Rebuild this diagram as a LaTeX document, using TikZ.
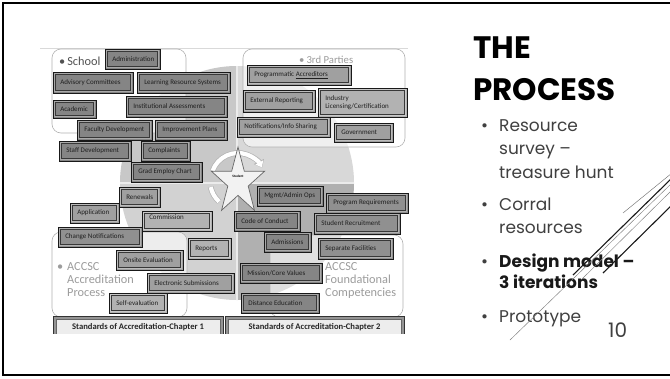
\documentclass[tikz,border=0pt]{standalone}
\usepackage{fontspec}
\setmainfont{Poppins}
\newfontfamily\carl{Carlito}
\usetikzlibrary{arrows.meta}
\definecolor{cA}{HTML}{858585}
\definecolor{cA2}{HTML}{909090}
\definecolor{cB}{HTML}{A0A0A0}
\definecolor{cC}{HTML}{B2B2B2}
\definecolor{qTL}{HTML}{C8C8C8}
\definecolor{qTR}{HTML}{D8D8D8}
\definecolor{qBL}{HTML}{D2D2D2}
\definecolor{qBR}{HTML}{B0B0B0}
\definecolor{bodytxt}{HTML}{404040}
\definecolor{qtitle}{HTML}{9C9C9C}
\tikzset{
 bxs/.style={draw=black!90, line width=0.9pt, inner sep=0pt,
   path picture={
     \draw[white, opacity=0.3, line width=1.5pt] ([shift={(1.4pt,-1.4pt)}]path picture bounding box.north west) rectangle ([shift={(-1.4pt,1.4pt)}]path picture bounding box.south east);
     \draw[black!78, line width=0.55pt] ([shift={(2.6pt,-2.6pt)}]path picture bounding box.north west) rectangle ([shift={(-2.6pt,2.6pt)}]path picture bounding box.south east);
   }},
 bxt/.style={inner sep=0pt, font=\carl\fontsize{7}{8}\selectfont, text=black!88, align=left},
 qbox/.style={draw=black!30, line width=0.6pt, rounded corners=9pt, fill=white, fill opacity=0.6},
 qtxt/.style={inner sep=0pt, anchor=base west, font=\carl\fontsize{12.3}{13}\selectfont, text=qtitle},
 stds/.style={draw=black!80, line width=0.8pt, fill=black!42, inner sep=0pt,
   path picture={
     \fill[white!93!black] ([shift={(3pt,-3.5pt)}]path picture bounding box.north west) rectangle ([shift={(-3pt,3pt)}]path picture bounding box.south east);
     \draw[black!60, line width=0.45pt] ([shift={(3pt,-3.5pt)}]path picture bounding box.north west) rectangle ([shift={(-3pt,3pt)}]path picture bounding box.south east);
   }},
 stdt/.style={inner sep=0pt, anchor=base, font=\carl\bfseries\fontsize{8.6}{10}\selectfont, text=black!85},
 body/.style={inner sep=0pt, anchor=base west, font=\fontsize{17}{20}\selectfont, text=bodytxt},
 bodyb/.style={inner sep=0pt, anchor=base west, font=\bfseries\fontsize{17}{20}\selectfont, text=black!90},
 ttl/.style={inner sep=0pt, anchor=base west, font=\bfseries\fontsize{31}{36}\selectfont, text=black},
 starst/.style={draw=black!60, fill=white!95!black, line width=0.7pt, line join=miter},
}
\newcommand\bx[7]{%
  \pgfmathsetmacro\bw{#4-#2}%
  \pgfmathsetmacro\bh{#5-#3}%
  \pgfmathsetmacro\bcx{(#2+#4)/2}%
  \pgfmathsetmacro\bcy{(#3+#5)/2}%
  \node[bxs, fill=#6, minimum width=\bw pt, minimum height=\bh pt] (#1) at (\bcx,\bcy) {};
  \node[bxt, anchor=west] (#1t) at ([xshift=7.5pt]#1.west) {#7};
}
\begin{document}
\begin{tikzpicture}[x=1pt,y=-1pt]
\useasboundingbox (0,0) rectangle (670,378);
\fill[white] (0,0) rectangle (670,378);
\draw[line width=2.2pt] (3.2,3.2) rectangle (690,374.8);
\draw[black!15, line width=0.5pt] (40,48) -- (408,48);

% central circle with four quadrants
\begin{scope}
\clip (237,183) circle (117);
\fill[qTL] (110,60) rectangle (237,183);
\fill[qTR] (237,60) rectangle (360,183);
\fill[qBL] (110,183) rectangle (237,310);
\fill[qBR] (237,183) rectangle (360,310);
\draw[white!92!black, line width=2pt] (237,60) -- (237,310);
\draw[white!92!black, line width=2pt] (110,183) -- (360,183);
\end{scope}

% quadrant frames
\draw[qbox] (52,49) rectangle (186,133);
\draw[qbox] (243,49) rectangle (405,147);
\draw[qbox] (52,232) rectangle (187,317);
\draw[qbox] (270,235) rectangle (403,317);

\node[qtxt, text=black!68] (schT) at (59,65) {•\hspace{2pt}School};
\node[qtxt, font=\carl\fontsize{10.7}{12}\selectfont] (thpT) at (299,63) {•\hspace{2pt}3rd Parties};
\node[qtxt] (acB) at (57,270) {•};
\node[qtxt] (ac1) at (67,270) {ACCSC};
\node[qtxt] (ac2) at (67,283) {Accreditation};
\node[qtxt] (ac3) at (67,296) {Process};
\node[qtxt] (fc1) at (325,270) {ACCSC};
\node[qtxt] (fc2) at (325,283) {Foundational};
\node[qtxt] (fc3) at (325,296) {Competencies};

% cycle arrow and star
\draw[black!30, line width=5.6pt, -{Triangle[width=11pt,length=7pt]}] (238,180) ++(200:27) arc[start angle=200, end angle=333, radius=27];
\draw[white, line width=4.2pt, -{Triangle[width=8.5pt,length=5.5pt]}] (238,180) ++(200:27) arc[start angle=200, end angle=332, radius=27];
\draw[black!30, line width=5.6pt] (238,181) ++(132:28) arc[start angle=132, end angle=168, radius=28];
\draw[white, line width=4.2pt] (238,181) ++(132.5:28) arc[start angle=132.5, end angle=167.5, radius=28];
\begin{scope}[shift={(238,182)}, xscale=0.8]
\draw[starst] (270:35) -- (234:13.4) -- (198:35) -- (162:13.4) -- (126:35) -- (90:13.4) -- (54:35) -- (18:13.4) -- (342:35) -- (306:13.4) -- cycle;
\end{scope}
\node[inner sep=0pt, font=\carl\bfseries\fontsize{3.4}{4}\selectfont] (stu) at (238,176) {Student};

% School
\bx{adm}{105}{49}{160}{69}{cA}{Administration}
\bx{adv}{53}{72}{133}{93}{cA}{Advisory Committees}
\bx{lrs}{137}{72}{230}{93}{cA}{Learning Resource Systems}
\bx{aca}{53}{100}{96}{118}{cA}{Academic}
\bx{ias}{126}{96}{227}{117}{cA}{Institutional Assessments}
\bx{fac}{77}{120}{152}{140}{cA}{Faculty Development}
\bx{imp}{155}{120}{227}{140}{cA}{Improvement Plans}
\bx{stf}{59}{141}{131}{161}{cA}{Staff Development}
\bx{cmp}{141}{141}{190}{161}{cA}{Complaints}
\bx{grd}{131}{162}{202}{182}{cA}{Grad Employ Chart}

% 3rd parties
\bx{pga}{247}{65}{351}{85}{cB}{Programmatic \underline{Accreditors}}
\bx{ext}{243}{90}{315}{112}{cB}{External Reporting}
\bx{ind}{318}{88}{407}{117}{cC}{Industry\\Licensing/Certification}
\bx{ntf}{237}{117}{330}{137}{cB}{Notifications/Info Sharing}
\bx{gov}{334}{123}{393}{142}{cB}{Government}

% ACCSC accreditation process
\bx{ren}{119}{187}{160}{207}{cB}{Renewals}
\bx{app}{70}{203}{119}{223}{cB}{Application}
\node[bxs, fill=cC, minimum width=70pt, minimum height=20pt] (com) at (177,221) {};
\node[bxt, anchor=north west] (comt) at ([shift={(7.5pt,-4pt)}]com.north west) {Commission};
\bx{chg}{58}{227}{142}{247}{cA2}{Change Notifications}
\bx{rep}{188}{238}{231}{259}{cC}{Reports}
\bx{ons}{116}{250}{183}{270}{cB}{Onsite Evaluation}
\bx{ele}{147}{273}{234}{293}{cB}{Electronic Submissions}
\bx{slf}{109}{293}{167}{313}{cC}{Self-evaluation}

% ACCSC foundational competencies
\bx{mgt}{257}{186}{323}{206}{cA}{Mgmt/Admin Ops}
\bx{prq}{326}{193}{408}{213}{cA2}{Program Requirements}
\bx{coc}{234}{211}{300}{231}{cA}{Code of Conduct}
\bx{srec}{314}{213}{400}{234}{cA2}{Student Recruitment}
\bx{adms}{264}{232}{311}{252}{cA}{Admissions}
\bx{sep}{318}{238}{393}{259}{cA2}{Separate Facilities}
\bx{mis}{240}{263}{322}{283}{cA}{Mission/Core Values}
\bx{dis}{241}{293}{319}{313}{cA}{Distance Education}

% standards bars
\begin{scope}
\clip (40,300) rectangle (420,333);
\node[stds, minimum width=170pt, minimum height=24pt] (st1) at (138,328) {};
\node[stds, minimum width=179pt, minimum height=24pt] (st2) at (314.5,328) {};
\end{scope}
\node[stdt] (st1t) at (138,329.3) {Standards of Accreditation-Chapter 1};
\node[stdt] (st2t) at (314.5,329.3) {Standards of Accreditation-Chapter 2};

% right side text
\node[ttl] (t1) at (473,58) {THE};
\node[ttl] (t2) at (473,100) {PROCESS};
\node[body] (b1) at (481,131) {•};
\node[body] (l1) at (499,131) {Resource};
\node[body] (l2) at (499,154) {survey –};
\node[body] (l3) at (499,178) {treasure hunt};
\node[body] (b2) at (481,210) {•};
\node[body] (l4) at (499,210) {Corral};
\node[body] (l5) at (499,233) {resources};
\node[body] (b3) at (481,267) {•};
\node[bodyb] (l6) at (499,267) {Design model –};
\node[bodyb] (l7) at (499,288) {3 iterations};
\node[body] (b4) at (481,322) {•};
\node[body] (l8) at (499,322) {Prototype};
\node[body, font=\fontsize{20}{24}\selectfont] (pg) at (608,337) {10};

% decorative diagonal lines
\draw[black!55, line width=0.45pt] (623,213) -- (672,173);
\draw[black!90, line width=1.1pt] (573,275) -- (672,178);
\draw[black!50, line width=0.45pt] (510,340) -- (672,183);
\draw[black!50, line width=0.45pt] (582,279) -- (672,190);
\draw[black!90, line width=1.1pt] (603,273) -- (672,205);
\end{tikzpicture}
\end{document}
